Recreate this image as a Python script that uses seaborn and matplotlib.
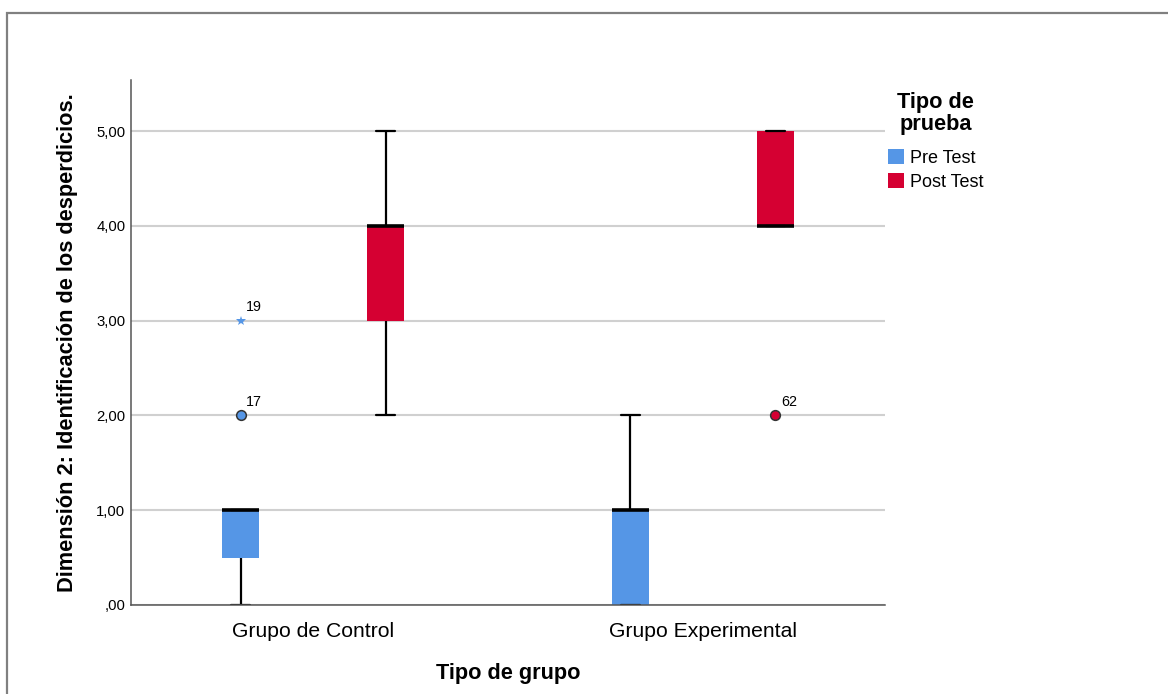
import pandas as pd
import matplotlib.pyplot as plt
import seaborn as sns
from matplotlib.patches import Patch, Rectangle

# Categories and colours
GROUPS = ["Grupo de Control", "Grupo Experimental"]
TESTS = ["Pre Test", "Post Test"]
PALETTE = ["#5596E6", "#D50032"]

# Five-number summaries: min, Q1, median, Q3, max
control_pre = [0, 0.5, 1, 1, 1]
control_post = [2, 3, 4, 4, 5]
experimental_pre = [0, 0, 1, 1, 2]
experimental_post = [4, 4, 4, 5, 5]

# Outliers (circles) and extreme values (stars) with their case numbers
outlier_group = ["Grupo de Control", "Grupo Experimental"]
outlier_test = ["Pre Test", "Post Test"]
outlier_value = [2, 2]
outlier_case = ["17", "62"]

extreme_group = ["Grupo de Control"]
extreme_test = ["Pre Test"]
extreme_value = [3]
extreme_case = ["19"]

Y_TICKS = [0, 1, 2, 3, 4, 5]

BOX_SPAN = 0.744  # seaborn width for the pair of boxes


def build_frame():
    summaries = {
        ("Grupo de Control", "Pre Test"): control_pre,
        ("Grupo de Control", "Post Test"): control_post,
        ("Grupo Experimental", "Pre Test"): experimental_pre,
        ("Grupo Experimental", "Post Test"): experimental_post,
    }
    rows = [(g, t, v) for (g, t), vals in summaries.items() for v in vals]
    return pd.DataFrame(rows, columns=["Grupo", "Prueba", "Valor"])


df = build_frame()
out_df = pd.DataFrame({"Grupo": outlier_group, "Prueba": outlier_test, "Valor": outlier_value})
ext_df = pd.DataFrame({"Grupo": extreme_group, "Prueba": extreme_test, "Valor": extreme_value})

sns.set_style("white")
plt.rcParams["font.family"] = ["Liberation Sans", "DejaVu Sans"]
plt.rcParams.update({"text.color": "black", "axes.labelcolor": "black",
                     "xtick.color": "black", "ytick.color": "black"})

fig = plt.figure(figsize=(11.68, 6.94), dpi=100)
ax = fig.add_axes([131 / 1168, 89 / 694, 754 / 1168, 525 / 694])

# whis=(0, 100) -> whiskers reach min and max of each summary
sns.boxplot(
    data=df, x="Grupo", y="Valor", hue="Prueba",
    order=GROUPS, hue_order=TESTS, palette=PALETTE,
    width=BOX_SPAN, gap=0.745, whis=(0, 100), saturation=1,
    linecolor="black", linewidth=1.6, showfliers=False,
    boxprops={"edgecolor": "none"},
    medianprops={"color": "black", "linewidth": 2.6},
    legend=False, ax=ax,
)

# outliers: circles
sns.pointplot(
    data=out_df, x="Grupo", y="Valor", hue="Prueba",
    order=GROUPS, hue_order=TESTS, palette=PALETTE,
    dodge=BOX_SPAN / 2, errorbar=None, linestyle="none", markers="o",
    markersize=7, markeredgecolor="#333333", markeredgewidth=1.1,
    legend=False, ax=ax,
)
# extremes: stars
sns.pointplot(
    data=ext_df, x="Grupo", y="Valor", hue="Prueba",
    order=GROUPS, hue_order=TESTS, palette=PALETTE,
    dodge=BOX_SPAN / 2, errorbar=None, linestyle="none", markers="*",
    markersize=7, markeredgewidth=0,
    legend=False, ax=ax,
)

# case-number labels next to the points
hue_shift = {TESTS[0]: -BOX_SPAN / 4, TESTS[1]: BOX_SPAN / 4}
for groups, tests, values, cases in [
    (outlier_group, outlier_test, outlier_value, outlier_case),
    (extreme_group, extreme_test, extreme_value, extreme_case),
]:
    for g, t, v, c in zip(groups, tests, values, cases):
        ax.annotate(c, (GROUPS.index(g) + hue_shift[t], v), xytext=(4, 5),
                    textcoords="offset points", ha="left", va="bottom", fontsize=10.3)

ax.set_xlim(-0.467, 1.467)
ax.set_ylim(0, 5.54)
ax.set_yticks(Y_TICKS)
ax.set_yticklabels([f"{v:.2f}".replace(".", ",").lstrip("0") for v in Y_TICKS])
ax.yaxis.grid(True, color="#d0d0d0", linewidth=1.5)
ax.set_axisbelow(True)

sns.despine(ax=ax)
for side in ["left", "bottom"]:
    ax.spines[side].set_color("#555555")
    ax.spines[side].set_linewidth(1.1)

ax.tick_params(axis="y", length=0, pad=4, labelsize=10.7)
ax.tick_params(axis="x", length=0, pad=12, labelsize=15.2)

ax.set_xlabel("Tipo de grupo", fontsize=15.7, fontweight="bold", labelpad=16)
ax.set_ylabel("Dimensión 2: Identificación de los desperdicios.", fontsize=15.7,
              fontweight="bold", labelpad=13)

handles = [Patch(facecolor=c, edgecolor="none") for c in PALETTE]
leg = ax.legend(handles, TESTS, title="Tipo de\nprueba", loc="upper left",
                bbox_to_anchor=(1.004, 0.9765), frameon=False, fontsize=13,
                title_fontsize=15.7, handlelength=0.9, handleheight=0.9,
                handletextpad=0.3, labelspacing=0.35, borderpad=0, borderaxespad=0)
leg.get_title().set_fontweight("bold")
leg.get_title().set_multialignment("center")
leg.get_title().set_linespacing(1.05)
leg._legend_box.sep = 10  # gap between title and entries

# grey outer frame as in the SPSS output
fig.add_artist(Rectangle((6.5 / 1168, -0.1), 1.2, (694 - 13) / 694 + 0.1,
                         transform=fig.transFigure, fill=False,
                         edgecolor="#808080", linewidth=1.6, clip_on=False))

fig.savefig("out.png", dpi=100)
